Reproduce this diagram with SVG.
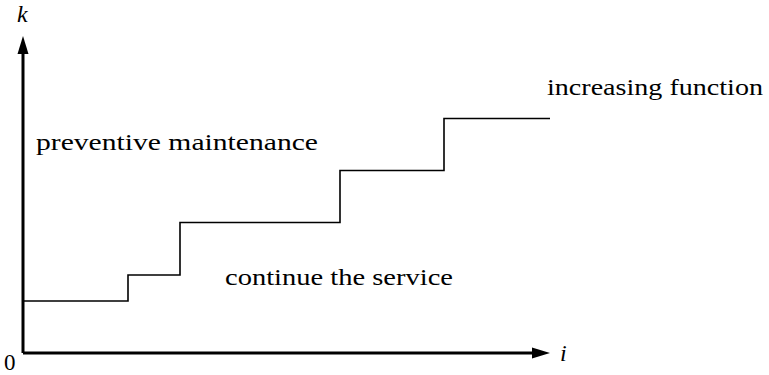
<svg xmlns="http://www.w3.org/2000/svg" width="769" height="375" viewBox="0 0 769 375">
<style>
.t{font-family:"Liberation Serif","Times New Roman",serif;font-size:23px;fill:#000}
.m{font-family:"Liberation Serif","Times New Roman",serif;font-size:24px;font-style:italic;fill:#000}
.ax{stroke:#000;stroke-width:3;fill:none}
.st{stroke:#000;stroke-width:1.6;fill:none}
</style>
<g id="connectors">
<path class="ax" d="M23,353 L23,50"/>
<path d="M23,36 L17.5,54 L28.5,54 Z" fill="#000"/>
<path class="ax" d="M23,353 L534,353"/>
<path d="M550,353 L532,347.5 L532,358.5 Z" fill="#000"/>
<path class="st" d="M23,301 L128,301 L128,275 L180,275 L180,222.5 L340,222.5 L340,170.5 L444,170.5 L444,118.5 L550,118.5"/>
</g>
<g id="labels">
<text class="m" x="17" y="22">k</text>
<text class="t" x="4" y="370" font-size="21">0</text>
<text class="m" x="560" y="361">i</text>
<text class="t" x="36" y="150" textLength="282" lengthAdjust="spacingAndGlyphs">preventive maintenance</text>
<text class="t" x="225" y="285" textLength="228" lengthAdjust="spacingAndGlyphs">continue the service</text>
<text class="t" x="547" y="95" textLength="216" lengthAdjust="spacingAndGlyphs">increasing function</text>
</g>
</svg>
